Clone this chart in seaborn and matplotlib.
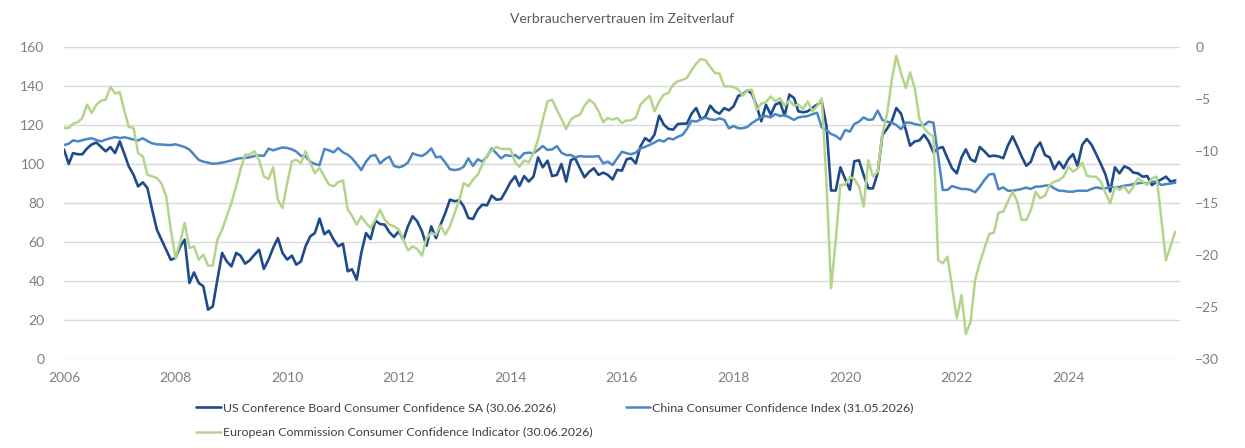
import pandas as pd
import matplotlib.pyplot as plt
import matplotlib.dates as mdates
import seaborn as sns

# Monatswerte ab Januar 2006
us_board = [
    107.4, 100, 105.6, 105, 105, 108, 110, 111, 108.7, 106.5, 108.7, 105.6,
    111.6, 105, 98.8, 94.5, 88.5, 90.6, 87.7, 76.6, 66.3, 61.2, 56, 50.9,
    51.8, 57.8, 61.2, 39, 44.4, 39, 37.3, 25.3, 27, 40.7, 54.4, 50.1,
    47.5, 54.4, 53, 48.9, 50.6, 53.5, 56, 46.2, 51, 57, 62, 54.4,
    51, 53, 48.4, 50, 57.8, 62.9, 64.6, 72, 64, 65.8, 61.2, 57.8,
    59.1, 45, 46, 40.7, 54.4, 64.6, 61.5, 71, 69.2, 68.9, 65, 62.6,
    65.5, 61.2, 68, 73.2, 70.6, 65.5, 58.1, 68, 62, 68.9, 74.9, 81.7,
    80.9, 81.4, 78.3, 72.3, 71.8, 76.6, 79.1, 78.8, 83.8, 81.7, 82, 86,
    90.6, 93.7, 88.7, 93.8, 91, 93.5, 103.4, 98.3, 101.7, 93.8, 94.4, 100,
    91, 102, 102.9, 97.8, 93.2, 96, 97.8, 94.4, 95.6, 94.4, 92.1, 97,
    96.6, 102.4, 103, 100.3, 109, 113.3, 111.6, 115, 124.8, 120.2, 118, 117.6,
    120.5, 120.7, 120.7, 125.8, 128.7, 123, 124.4, 129.9, 127, 125.8, 128.7, 127.5,
    129.6, 135, 135.6, 137.8, 136.1, 129.6, 121.9, 130.4, 125.3, 130.4, 131.6, 124.8,
    135.6, 133.8, 127, 126.5, 127, 128.7, 130.4, 132.1, 119.5, 86.4, 86.4, 98.3,
    92.3, 86.8, 101.4, 101.9, 94.4, 87.5, 87.5, 95.4, 115, 118, 121.9, 128.7,
    125.8, 117.6, 109.4, 111.6, 112.1, 115, 111.6, 106, 108, 108.7, 103, 97.8,
    95.2, 103.4, 107.5, 102.4, 101.2, 108.7, 106.5, 103.9, 104.3, 103.9, 103, 109.4,
    114.2, 109, 103.9, 99.1, 101.2, 108, 111, 104.6, 103.4, 97.3, 101.2, 97.8,
    102.4, 105.1, 99, 109.9, 112.8, 109.9, 105.1, 100, 94.4, 85.9, 98.3, 95.2,
    98.8, 97.8, 95.6, 95.2, 93.5, 93.8, 89.2, 90.9, 92.1, 93.5, 90.9, 91.6,
]

china_cci = [
    109.7, 110.4, 112.1, 111.6, 112.2, 112.8, 113.2, 112.3, 111.6, 112.5, 113.2, 113.8,
    113.3, 113.7, 113.2, 112.5, 112.1, 113.2, 111.8, 110.6, 110.1, 110, 109.8, 109.7,
    110.1, 109.4, 108.7, 107.4, 104.8, 102.1, 101.2, 100.7, 100.1, 100.3, 100.7, 101.2,
    101.8, 102.6, 103, 103.1, 103.4, 104.1, 104.4, 104.1, 107.9, 107, 107.8, 108.5,
    108.2, 107.5, 106.4, 104.2, 103.9, 101.2, 100, 99.5, 107.7, 107, 106, 108.2,
    106, 104.8, 102.9, 100, 96.9, 101.2, 104.1, 104.6, 100.3, 102.4, 103.8, 99,
    98.3, 99, 100.7, 105.5, 104.6, 104.1, 105.5, 108, 103.4, 103.8, 100.7, 97.3,
    96.9, 97.3, 98.6, 102.9, 99, 102.4, 101.2, 103.8, 108, 105.5, 102.9, 104.6,
    104.1, 104.6, 102.9, 105.5, 105.8, 105.5, 107.2, 109.2, 107.2, 107.5, 109.2, 105.8,
    104.6, 104.6, 103.4, 104.1, 103.8, 103.8, 103.8, 104.1, 100.3, 101.2, 99.5, 102.9,
    106.3, 105.5, 105, 105.8, 108, 108.8, 109.8, 111, 112.3, 111.5, 113.2, 112.6,
    114, 114.9, 118, 122.2, 121.7, 122.9, 123.8, 122.9, 122.6, 123.4, 122.6, 118.3,
    119.5, 118.3, 118.3, 119, 121, 122.5, 124, 124.6, 123.9, 125.6, 124.6, 125.1,
    123.9, 122.6, 123.9, 124.3, 124.6, 125.5, 126.3, 118.8, 117.4, 115.4, 114.4, 112.6,
    117.4, 116.6, 120.5, 121.7, 123.9, 122.6, 122.9, 127.4, 122.6, 121.7, 121.2, 120,
    117.8, 121.2, 121.2, 120.5, 120, 120, 121.7, 121.2, 104, 86.7, 86.7, 88.7,
    87.9, 87.2, 87.2, 86.7, 85.5, 88.4, 91.8, 94.7, 94.9, 87, 88, 86.3,
    86.3, 86.7, 87.2, 87.9, 87.2, 88.4, 88.4, 88.9, 89.1, 87.5, 86.3, 86.2,
    85.8, 85.8, 86.3, 86.3, 86.2, 87.2, 88, 87.5, 87.5, 88.4, 88, 88.2,
    88.9, 89.2, 89.7, 90.1, 90.4, 90.1, 90.9, 90.9, 89.2, 89.7, 90, 90.4,
]

eu_indicator = [
    -7.78, -7.8, -7.37, -7.24, -6.82, -5.54, -6.34, -5.55, -5.16, -5.06, -3.84, -4.48,
    -4.35, -6.18, -7.69, -7.78, -10.2, -10.52, -12.28, -12.44, -12.6, -13.14, -14.36, -17.57,
    -20.3, -18.7, -16.93, -19.33, -19.17, -20.45, -19.97, -21.02, -21.02, -18.53, -17.57, -16.28,
    -15, -13.4, -11.8, -10.35, -10.35, -10.03, -10.84, -12.44, -12.7, -11.56, -14.68, -15.49,
    -13.08, -10.98, -10.84, -11.16, -10.03, -11.16, -12.12, -11.63, -12.44, -13.23, -13.4, -13,
    -12.82, -15.6, -16.22, -17.08, -16.28, -16.93, -17.4, -16.6, -15.64, -16.6, -17.08, -17.24,
    -17.56, -18.53, -19.56, -19.17, -19.42, -20.06, -18.36, -17.89, -18.04, -17.17, -18.04, -17.24,
    -15.96, -14.68, -13.07, -13.4, -12.75, -12.28, -11.31, -10.44, -9.93, -9.61, -9.8, -9.8,
    -9.8, -11.09, -11.53, -10.9, -11.09, -10.19, -8.9, -6.99, -5.23, -5.07, -6.03, -6.9,
    -7.88, -6.99, -6.68, -6.51, -5.64, -5.07, -5.39, -6.19, -7.24, -6.82, -6.99, -6.82,
    -7.31, -7.06, -7.05, -6.8, -5.55, -5.06, -4.69, -6.19, -5.23, -4.58, -4.42, -3.62,
    -3.3, -3.15, -2.98, -2.24, -1.6, -1.16, -1.28, -1.91, -2.5, -2.56, -3.78, -3.78,
    -3.85, -4.1, -4.69, -4.17, -4.1, -6.08, -5.44, -5.31, -4.75, -5.23, -4.91, -5.64,
    -5.14, -5.64, -5.55, -5.96, -5.23, -6.19, -5.7, -4.93, -13.07, -23.2, -18.5, -13.25,
    -13.25, -12.5, -12.7, -13.4, -15.35, -10.9, -12.45, -12.0, -8.35, -6.5, -3.2, -0.85,
    -2.5, -3.95, -2.45, -3.97, -6.86, -7.82, -8.3, -8.62, -20.5, -20.8, -20.16, -23.05,
    -26.1, -23.85, -27.6, -26.4, -22.4, -20.7, -19.36, -17.98, -17.85, -15.93, -15.83, -14.87,
    -13.91, -14.87, -16.63, -16.63, -15.67, -13.91, -14.55, -14.3, -13.27, -12.95, -12.8, -12.47,
    -11.51, -11.99, -11.67, -11.12, -12.37, -12.47, -12.47, -12.95, -14.07, -15.03, -13.43, -13.75,
    -13.43, -14.07, -13.43, -12.63, -12.95, -13.27, -12.63, -12.47, -16.6, -20.5, -19.1, -17.76,
]

labels = [
    'US Conference Board Consumer Confidence SA (30.06.2026)',
    'China Consumer Confidence Index (31.05.2026)',
    'European Commission Consumer Confidence Indicator (30.06.2026)',
]
jahre = list(range(2006, 2025, 2))
farben = ['#1f4b8a', '#4a86c4', '#b4d48c']
grau = '#7f7f7f'

df = pd.DataFrame({
    'Datum': pd.date_range('2006-01-01', periods=len(us_board), freq='MS'),
    'US': us_board,
    'China': china_cci,
    'EU': eu_indicator,
})

sns.set_style('white')
plt.rcParams['font.family'] = ['Lato', 'DejaVu Sans']

fig = plt.figure(figsize=(12.45, 4.48), dpi=100)
ax = fig.add_axes([64 / 1245, 1 - 359 / 448, (1180 - 64) / 1245, 312 / 448])
ax2 = ax.twinx()

sns.lineplot(data=df, x='Datum', y='US', ax=ax, color=farben[0], lw=1.9, legend=False)
sns.lineplot(data=df, x='Datum', y='China', ax=ax, color=farben[1], lw=1.8, legend=False)
sns.lineplot(data=df, x='Datum', y='EU', ax=ax2, color=farben[2], lw=1.8, legend=False)

ax.set_xlim(pd.Timestamp('2006-01-01'), pd.Timestamp('2026-01-01'))
ax.set_xticks([pd.Timestamp(f'{j}-01-01') for j in jahre])
ax.xaxis.set_major_formatter(mdates.DateFormatter('%Y'))
ax.set_ylim(0, 160)
ax.set_yticks(range(0, 161, 20))
ax2.set_ylim(-30, 0)
ax2.set_yticks(range(-30, 1, 5))

ax.set_xlabel('')
ax.set_ylabel('')
ax2.set_ylabel('')
ax.grid(axis='y', color='#d9d9d9', lw=1)
ax.grid(axis='x', visible=False)
ax2.grid(False)
for a in (ax, ax2):
    for s in a.spines.values():
        s.set_visible(False)
    a.tick_params(length=0, labelsize=10, labelcolor=grau)
ax.tick_params(axis='y', pad=14)
ax.tick_params(axis='x', pad=9)
ax2.tick_params(axis='y', pad=11)

ax.set_title('Verbrauchervertrauen im Zeitverlauf', fontsize=10, color='#595959', pad=17)

# Legende zeilenweise: US, China / EU
linien = ax.get_lines() + ax2.get_lines()
fig.legend([linien[0], linien[2], linien[1]], [labels[0], labels[2], labels[1]],
           ncol=2, loc='upper left', bbox_to_anchor=(191 / 1245, 1 - 397 / 448),
           frameon=False, fontsize=8.9, labelcolor='#404040',
           handlelength=2.0, handletextpad=0.15, columnspacing=2.7, labelspacing=1.15,
           borderaxespad=0)

plt.savefig('out.png', dpi=100)
